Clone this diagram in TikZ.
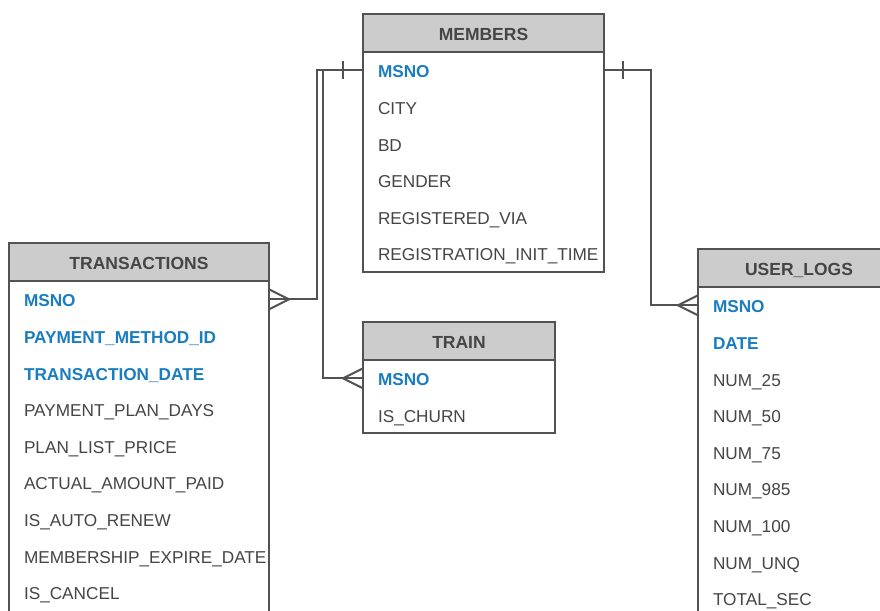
\documentclass[tikz,border=0pt]{standalone}
\usepackage{fontspec}
\setmainfont{Liberation Sans}
\usetikzlibrary{calc}
\definecolor{bordc}{HTML}{525252}
\definecolor{headfill}{HTML}{CCCCCC}
\definecolor{keyc}{HTML}{1A7DBF}
\definecolor{txtc}{HTML}{454545}
\begin{document}
\begin{tikzpicture}[x=1pt,y=-1pt,
 tblhead/.style={draw=bordc, fill=headfill, line width=2pt, minimum height=38pt, inner sep=0pt, outer sep=0pt, text height=14.5pt, text depth=0pt, font=\fontsize{17.5}{20}\selectfont\bfseries, text=txtc, anchor=north west},
 tblbody/.style={draw=bordc, line width=2pt, fill=white},
 rowbox/.style={anchor=north west, minimum height=36.6pt, inner xsep=15pt, inner ysep=0pt, outer sep=0pt, text height=15.3pt, text depth=0pt, align=left, text=txtc, font=\fontsize{17.2}{20}\selectfont},
 keyrow/.style={rowbox, text=keyc, font=\fontsize{17.2}{20}\selectfont\bfseries},
 conn/.style={draw=bordc, line width=2pt},
]
\useasboundingbox (0,0) rectangle (880,610);
\clip (0,0) rectangle (880,610);

% MEMBERS
\node[tblhead, minimum width=241pt] (mh) at (363,14) {MEMBERS};
\draw[tblbody] (mh.south west) rectangle ++(241,219.6);
\node[keyrow, text width=211pt] (m1) at (mh.south west) {MSNO};
\node[rowbox, text width=211pt] (m2) at (m1.south west) {CITY};
\node[rowbox, text width=211pt] (m3) at (m2.south west) {BD};
\node[rowbox, text width=211pt] (m4) at (m3.south west) {GENDER};
\node[rowbox, text width=211pt] (m5) at (m4.south west) {REGISTERED\_VIA};
\node[rowbox, text width=211pt] (m6) at (m5.south west) {REGISTRATION\_INIT\_TIME};

% TRANSACTIONS
\node[tblhead, minimum width=260pt] (th) at (9,243) {TRANSACTIONS};
\draw[tblbody] (th.south west) rectangle ++(260,360);
\node[keyrow, text width=230pt] (t1) at (th.south west) {MSNO};
\node[keyrow, text width=230pt] (t2) at (t1.south west) {PAYMENT\_METHOD\_ID};
\node[keyrow, text width=230pt] (t3) at (t2.south west) {TRANSACTION\_DATE};
\node[rowbox, text width=230pt] (t4) at (t3.south west) {PAYMENT\_PLAN\_DAYS};
\node[rowbox, text width=230pt] (t5) at (t4.south west) {PLAN\_LIST\_PRICE};
\node[rowbox, text width=230pt] (t6) at (t5.south west) {ACTUAL\_AMOUNT\_PAID};
\node[rowbox, text width=230pt] (t7) at (t6.south west) {IS\_AUTO\_RENEW};
\node[rowbox, text width=230pt] (t8) at (t7.south west) {MEMBERSHIP\_EXPIRE\_DATE};
\node[rowbox, text width=230pt] (t9) at (t8.south west) {IS\_CANCEL};

% TRAIN
\node[tblhead, minimum width=192pt] (trh) at (363,322) {TRAIN};
\draw[tblbody] (trh.south west) rectangle ++(192,73.2);
\node[keyrow, text width=162pt] (tr1) at (trh.south west) {MSNO};
\node[rowbox, text width=162pt] (tr2) at (tr1.south west) {IS\_CHURN};

% USER_LOGS
\node[tblhead, minimum width=202pt] (uh) at (698,249) {USER\_LOGS};
\draw[tblbody] (uh.south west) rectangle ++(202,360);
\node[keyrow, text width=172pt] (u1) at (uh.south west) {MSNO};
\node[keyrow, text width=172pt] (u2) at (u1.south west) {DATE};
\node[rowbox, text width=172pt] (u3) at (u2.south west) {NUM\_25};
\node[rowbox, text width=172pt] (u4) at (u3.south west) {NUM\_50};
\node[rowbox, text width=172pt] (u5) at (u4.south west) {NUM\_75};
\node[rowbox, text width=172pt] (u6) at (u5.south west) {NUM\_985};
\node[rowbox, text width=172pt] (u7) at (u6.south west) {NUM\_100};
\node[rowbox, text width=172pt] (u8) at (u7.south west) {NUM\_UNQ};
\node[rowbox, text width=172pt] (u9) at (u8.south west) {TOTAL\_SEC};

% connectors
\draw[conn] (m1.west) -- ++(-46,0) |- (t1.east);
\draw[conn] (m1.west) -- ++(-40,0) |- (tr1.west);
\draw[conn] (m1.east) -- ++(47,0) |- (u1.west);

% one marks
\draw[conn] ($(m1.west)+(-20,-9)$) -- ++(0,18);
\draw[conn] ($(m1.east)+(19,-9)$) -- ++(0,18);

% crow's feet
\draw[conn] ($(t1.east)+(0,-10)$) -- ++(20,10) -- ++(-20,10);
\draw[conn] ($(tr1.west)+(0,-10)$) -- ++(-20,10) -- ++(20,10);
\draw[conn] ($(u1.west)+(0,-10)$) -- ++(-20,10) -- ++(20,10);
\end{tikzpicture}
\end{document}
